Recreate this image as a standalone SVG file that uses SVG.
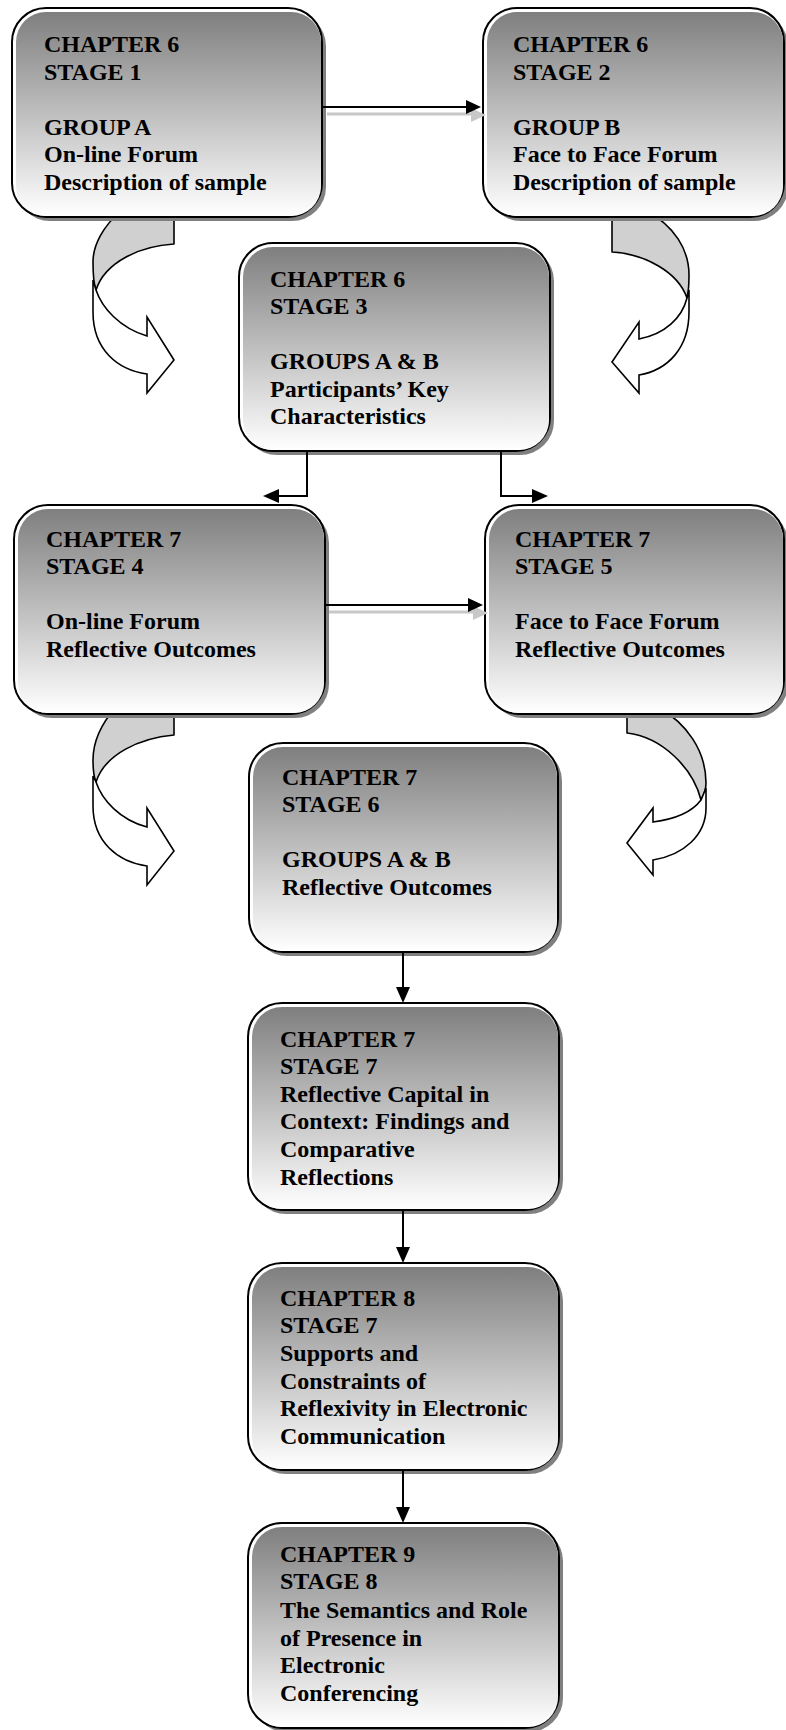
<svg xmlns="http://www.w3.org/2000/svg" width="786" height="1730" viewBox="0 0 786 1730">
<defs>
<linearGradient id="g" x1="0" y1="0" x2="0" y2="1">
<stop offset="0" stop-color="#7f7f7f"/>
<stop offset="1" stop-color="#ffffff"/>
</linearGradient>
<style>
.sh{fill:#808080}
.bx{fill:#fff;stroke:#000;stroke-width:2}
.gr{fill:url(#g)}
.t{font-family:"Liberation Serif","Times New Roman",serif;font-weight:bold;font-size:24px;fill:#000}
.ln{fill:none;stroke:#000;stroke-width:2}
.lns{fill:none;stroke:#c8c8c8;stroke-width:3}
.hd{fill:#000}
.hds{fill:#c8c8c8}
.band{fill:#d0d0d0;stroke:#000;stroke-width:1.6;stroke-linejoin:round}
.rib{fill:#fff;stroke:#000;stroke-width:1.6;stroke-linejoin:miter}
</style>
</defs>
<rect width="786" height="1730" fill="#fff"/>

<g id="curved-connectors">
<path class="band" d="M174,210 L174,244 C140,246 105,262 96,290 C93,282 93,270 93,262 C93,245 103,226 122,210 Z"/>
<path class="rib" d="M96,290 C102,308 120,328 147,336 L147,317 L174,360 L147,393 L147,374 C118,370 93,350 93,312 L93,280 Z"/>
<path class="band" d="M612,210 L612,252 C645,254 678,272 687,298 C689,290 689,282 689,275 C689,250 675,226 645,210 Z"/>
<path class="rib" d="M687,298 C682,318 665,334 639,339 L639,322 L612,362 L639,393 L639,375 C668,370 689,348 689,312 L689,290 Z"/>
<path class="band" d="M174,707 L174,735 C140,738 105,754 96,782 C93,775 93,766 93,760 C93,742 101,724 116,707 Z"/>
<path class="rib" d="M96,782 C102,800 120,820 147,827 L147,808 L174,851 L147,885 L147,866 C118,862 93,842 93,806 L93,776 Z"/>
<path class="band" d="M627,707 L627,733 C662,737 693,768 701,800 C704,795 706,790 706,783 C706,750 686,723 658,707 Z"/>
<path class="rib" d="M701,800 C692,812 676,819 653,822 L653,808 L627,843 L653,875 L653,860 C684,855 706,835 706,808 L706,788 Z"/>
</g>

<g id="stage1">
<rect class="sh" x="16" y="12" width="310" height="209" rx="34"/>
<rect class="bx" x="12" y="8" width="310" height="209" rx="34"/>
<rect class="gr" x="16" y="12" width="305" height="204" rx="30"/>
<text class="t"><tspan x="44" y="52">CHAPTER 6</tspan><tspan x="44" y="80">STAGE 1</tspan><tspan x="44" y="135">GROUP A</tspan><tspan x="44" y="162">On-line Forum</tspan><tspan x="44" y="190">Description of sample</tspan></text>
</g>

<g id="stage2">
<rect class="sh" x="487" y="12" width="301" height="209" rx="34"/>
<rect class="bx" x="483" y="8" width="301" height="209" rx="34"/>
<rect class="gr" x="487" y="12" width="296" height="204" rx="30"/>
<text class="t"><tspan x="513" y="52">CHAPTER 6</tspan><tspan x="513" y="80">STAGE 2</tspan><tspan x="513" y="135">GROUP B</tspan><tspan x="513" y="162">Face to Face Forum</tspan><tspan x="513" y="190">Description of sample</tspan></text>
</g>

<g id="stage3">
<rect class="sh" x="243" y="247" width="311" height="208" rx="34"/>
<rect class="bx" x="239" y="243" width="311" height="208" rx="34"/>
<rect class="gr" x="243" y="247" width="306" height="203" rx="30"/>
<text class="t"><tspan x="270" y="287">CHAPTER 6</tspan><tspan x="270" y="314">STAGE 3</tspan><tspan x="270" y="369">GROUPS A &amp; B</tspan><tspan x="270" y="397">Participants’ Key</tspan><tspan x="270" y="424">Characteristics</tspan></text>
</g>

<g id="stage4">
<rect class="sh" x="18" y="509" width="311" height="209" rx="34"/>
<rect class="bx" x="14" y="505" width="311" height="209" rx="34"/>
<rect class="gr" x="18" y="509" width="306" height="204" rx="30"/>
<text class="t"><tspan x="46" y="547">CHAPTER 7</tspan><tspan x="46" y="574">STAGE 4</tspan><tspan x="46" y="629">On-line Forum</tspan><tspan x="46" y="657">Reflective Outcomes</tspan></text>
</g>

<g id="stage5">
<rect class="sh" x="489" y="509" width="299" height="209" rx="34"/>
<rect class="bx" x="485" y="505" width="299" height="209" rx="34"/>
<rect class="gr" x="489" y="509" width="294" height="204" rx="30"/>
<text class="t"><tspan x="515" y="547">CHAPTER 7</tspan><tspan x="515" y="574">STAGE 5</tspan><tspan x="515" y="629">Face to Face Forum</tspan><tspan x="515" y="657">Reflective Outcomes</tspan></text>
</g>

<g id="stage6">
<rect class="sh" x="253" y="747" width="309" height="209" rx="34"/>
<rect class="bx" x="249" y="743" width="309" height="209" rx="34"/>
<rect class="gr" x="253" y="747" width="304" height="204" rx="30"/>
<text class="t"><tspan x="282" y="785">CHAPTER 7</tspan><tspan x="282" y="812">STAGE 6</tspan><tspan x="282" y="867">GROUPS A &amp; B</tspan><tspan x="282" y="895">Reflective Outcomes</tspan></text>
</g>

<g id="stage7-ch7">
<rect class="sh" x="252" y="1007" width="311" height="207" rx="34"/>
<rect class="bx" x="248" y="1003" width="311" height="207" rx="34"/>
<rect class="gr" x="252" y="1007" width="306" height="202" rx="30"/>
<text class="t"><tspan x="280" y="1047">CHAPTER 7</tspan><tspan x="280" y="1074">STAGE 7</tspan><tspan x="280" y="1102">Reflective Capital in</tspan><tspan x="280" y="1129">Context: Findings and</tspan><tspan x="280" y="1157">Comparative</tspan><tspan x="280" y="1185">Reflections</tspan></text>
</g>

<g id="stage7-ch8">
<rect class="sh" x="252" y="1267" width="311" height="207" rx="34"/>
<rect class="bx" x="248" y="1263" width="311" height="207" rx="34"/>
<rect class="gr" x="252" y="1267" width="306" height="202" rx="30"/>
<text class="t"><tspan x="280" y="1306">CHAPTER 8</tspan><tspan x="280" y="1333">STAGE 7</tspan><tspan x="280" y="1361">Supports and</tspan><tspan x="280" y="1389">Constraints of</tspan><tspan x="280" y="1416">Reflexivity in Electronic</tspan><tspan x="280" y="1444">Communication</tspan></text>
</g>

<g id="stage8">
<rect class="sh" x="252" y="1527" width="311" height="205" rx="34"/>
<rect class="bx" x="248" y="1523" width="311" height="205" rx="34"/>
<rect class="gr" x="252" y="1527" width="306" height="200" rx="30"/>
<text class="t"><tspan x="280" y="1562">CHAPTER 9</tspan><tspan x="280" y="1589">STAGE 8</tspan><tspan x="280" y="1618">The Semantics and Role</tspan><tspan x="280" y="1646">of Presence in</tspan><tspan x="280" y="1673">Electronic</tspan><tspan x="280" y="1701">Conferencing</tspan></text>
</g>

<g id="connectors">
<path class="lns" d="M327,114 H472"/>
<polygon class="hds" points="471,108 486,115 471,122"/>
<path class="ln" d="M322,107 H467"/>
<polygon class="hd" points="466,100 481,107 466,114"/>
<path class="lns" d="M329,612 H474"/>
<polygon class="hds" points="473,606 488,613 473,620"/>
<path class="ln" d="M325,605 H469"/>
<polygon class="hd" points="468,598 483,605 468,612"/>
<path class="ln" d="M307,452 V496 H278"/>
<polygon class="hd" points="279,489 263,496 279,503"/>
<path class="ln" d="M501,452 V496 H533"/>
<polygon class="hd" points="532,489 548,496 532,503"/>
<path class="ln" d="M403,953 V988"/>
<polygon class="hd" points="396,987 403,1003 410,987"/>
<path class="ln" d="M403,1211 V1248"/>
<polygon class="hd" points="396,1247 403,1263 410,1247"/>
<path class="ln" d="M403,1471 V1508"/>
<polygon class="hd" points="396,1507 403,1523 410,1507"/>
</g>
</svg>
